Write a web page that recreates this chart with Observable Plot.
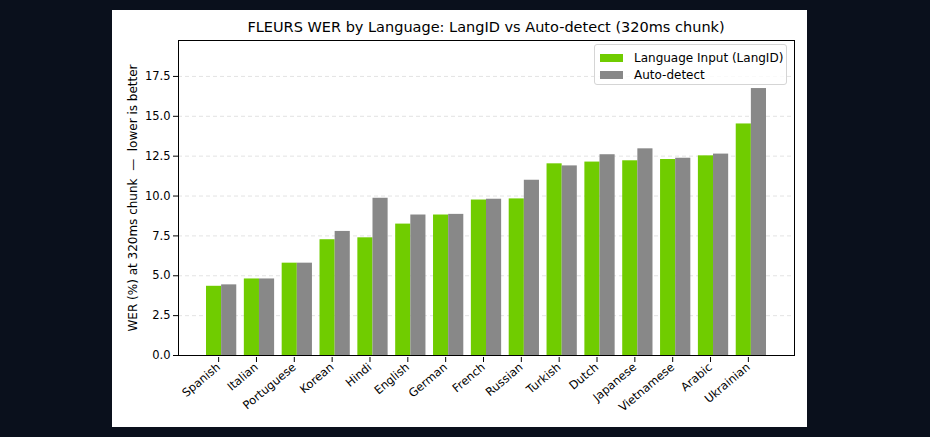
<!DOCTYPE html>
<html>
<head>
<meta charset="utf-8">
<script src="https://cdn.jsdelivr.net/npm/d3@7"></script>
<script src="https://cdn.jsdelivr.net/npm/@observablehq/plot@0.6"></script>
<style>
  html, body { margin: 0; padding: 0; background: #0a101c; width: 930px; height: 437px; overflow: hidden; }
  #panel { position: absolute; left: 112px; top: 10px; width: 695px; height: 417px; background: #ffffff; font-family: "DejaVu Sans", sans-serif; }
  #title { position: absolute; left: 66px; top: 0; width: 616px; height: 28px; text-align: center; font-size: 14.5px; line-height: 18px; padding-top: 8px; box-sizing: border-box; color: #000; white-space: nowrap; }
  #chart { position: absolute; left: 0; top: 28px; }
  #legend { position: absolute; left: 482px; top: 34px; width: 193px; height: 41px; box-sizing: border-box; border: 1px solid #d5d5d5; border-radius: 3px; background: rgba(255,255,255,0.8); padding: 4px 5px; font-size: 12px; color: #000; }
  .row { height: 17px; display: flex; align-items: center; white-space: nowrap; }
  .sw { width: 23px; height: 8px; margin-right: 11px; flex: none; }
</style>
</head>
<body>
<div id="panel">
  <div id="title"></div>
  <div id="chart"></div>
  <div id="legend"></div>
</div>
<script>
const titleText = "FLEURS WER by Language: LangID vs Auto-detect (320ms chunk)";
const yLabel = "WER (%) at 320ms chunk  —  lower is better";
const languages = ["Spanish","Italian","Portuguese","Korean","Hindi","English","German","French","Russian","Turkish","Dutch","Japanese","Vietnamese","Arabic","Ukrainian"];
const langidWER = [4.34,4.80,5.79,7.26,7.38,8.24,8.81,9.75,9.82,12.02,12.13,12.21,12.29,12.52,14.52];
const autoWER   = [4.43,4.80,5.79,7.78,9.86,8.81,8.85,9.80,10.99,11.89,12.59,12.96,12.37,12.63,16.74];
const seriesNames = ["Language Input (LangID)", "Auto-detect"];
const seriesColors = ["#70cc00", "#888888"];
const yTicks = [0, 2.5, 5, 7.5, 10, 12.5, 15, 17.5];

const barWidth = 0.4;
const rows = [];
languages.forEach((lang, i) => {
  rows.push({i, lang, series: seriesNames[0], x1: i - barWidth, x2: i, value: langidWER[i]});
  rows.push({i, lang, series: seriesNames[1], x1: i, x2: i + barWidth, value: autoWER[i]});
});
const yMax = d3.max(autoWER.concat(langidWER)) * 1.18;
const xPad = (languages.length - 1 + 2 * barWidth) * 0.05;

document.getElementById("title").textContent = titleText;

const chart = Plot.plot({
  width: 695,
  height: 389,
  marginLeft: 66,
  marginRight: 13,
  marginTop: 2,
  marginBottom: 72,
  style: { fontFamily: "DejaVu Sans, sans-serif", fontSize: "11.5px", color: "#000", background: "transparent" },
  x: { type: "linear", domain: [-barWidth - xPad, languages.length - 1 + barWidth + xPad] },
  y: { domain: [0, yMax] },
  color: { domain: seriesNames, range: seriesColors },
  marks: [
    Plot.gridY(yTicks, { stroke: "#b0b0b0", strokeOpacity: 0.35, strokeDasharray: "4,3" }),
    Plot.rectY(rows, { x1: "x1", x2: "x2", y1: 0, y2: "value", fill: "series", inset: 0 }),
    Plot.axisX(d3.range(languages.length), {
      tickFormat: i => languages[i], tickRotate: -40, tickSize: 5, tickPadding: 3, dx: -3, dy: 2, label: null, stroke: "#000"
    }),
    Plot.axisY(yTicks, {
      tickFormat: () => "", tickSize: 0, stroke: "none",
      label: yLabel, labelAnchor: "center", labelOffset: 50, labelArrow: "none", fontSize: 12
    }),
    Plot.axisY(yTicks, {
      tickFormat: d => d.toFixed(1), tickSize: 5, tickPadding: 3, label: null, stroke: "#000"
    }),
    Plot.frame({ stroke: "#000", strokeWidth: 1 })
  ]
});
document.getElementById("chart").appendChild(chart);

const legend = document.getElementById("legend");
seriesNames.forEach((name, k) => {
  const row = document.createElement("div");
  row.className = "row";
  const sw = document.createElement("span");
  sw.className = "sw";
  sw.style.background = seriesColors[k];
  const t = document.createElement("span");
  t.textContent = name;
  row.appendChild(sw);
  row.appendChild(t);
  legend.appendChild(row);
});
</script>
</body>
</html>
